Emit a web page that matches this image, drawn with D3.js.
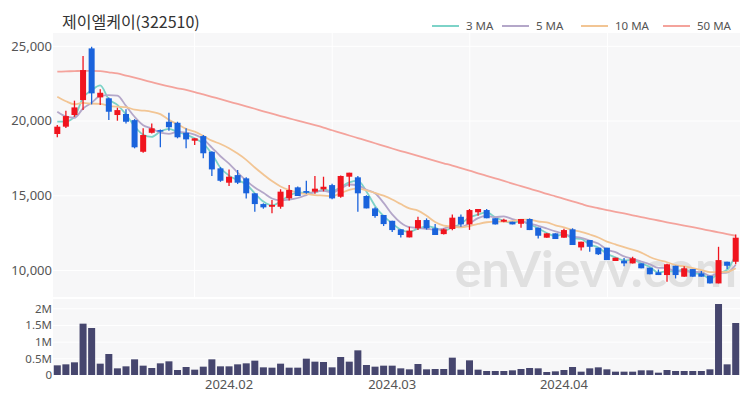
<!DOCTYPE html>
<html>
<head>
<meta charset="utf-8">
<script src="https://cdn.jsdelivr.net/npm/d3@7"></script>
<style>
  body { margin: 0; background: #fff; }
  text { font-family: "Noto Sans CJK KR", "Noto Sans", sans-serif; }
  .tick text, .xlab, .legend text { font-family: "Noto Sans", sans-serif; }
</style>
</head>
<body>
<div id="viz"></div>
<script>
// trading days shown (Jan 4 - Apr 30, 2024)
const dates = [
  "2024-01-04","2024-01-05","2024-01-08","2024-01-09","2024-01-10","2024-01-11","2024-01-12","2024-01-15","2024-01-16","2024-01-17",
  "2024-01-18","2024-01-19","2024-01-22","2024-01-23","2024-01-24","2024-01-25","2024-01-26","2024-01-29","2024-01-30","2024-01-31",
  "2024-02-01","2024-02-02","2024-02-05","2024-02-06","2024-02-07","2024-02-08","2024-02-13","2024-02-14","2024-02-15","2024-02-16",
  "2024-02-19","2024-02-20","2024-02-21","2024-02-22","2024-02-23","2024-02-26","2024-02-27","2024-02-28","2024-02-29",
  "2024-03-04","2024-03-05","2024-03-06","2024-03-07","2024-03-08","2024-03-11","2024-03-12","2024-03-13","2024-03-14","2024-03-15",
  "2024-03-18","2024-03-19","2024-03-20","2024-03-21","2024-03-22","2024-03-25","2024-03-26","2024-03-27","2024-03-28","2024-03-29",
  "2024-04-01","2024-04-02","2024-04-03","2024-04-04","2024-04-05","2024-04-08","2024-04-09","2024-04-11","2024-04-12","2024-04-15",
  "2024-04-16","2024-04-17","2024-04-18","2024-04-19","2024-04-22","2024-04-23","2024-04-24","2024-04-25","2024-04-26","2024-04-29",
  "2024-04-30"
];

const opens = [
  19100,19590,20370,21370,24830,21550,21490,20370,20440,20030,
  17910,19180,19360,19920,19850,19180,18650,18960,17910,16800,
  15840,16350,16130,15130,14410,14230,14230,14790,15530,15280,
  15240,15400,15680,14900,16240,16200,14950,14120,13680,
  13290,12720,12180,12790,13340,12790,12400,12740,13560,13050,
  13860,14010,13460,13230,13230,13090,13410,12830,12160,12450,
  12160,12720,11510,12000,11490,11490,10600,10620,10440,10440,
  10150,9840,9660,10280,9550,10060,9770,9610,9100,10550,
  10550
];
const highs = [
  19700,20660,21330,24320,24940,22090,21550,20860,20750,20100,
  19480,19810,19400,20520,19920,19480,18810,19030,17950,16880,
  16730,16690,16200,15130,14460,14680,15400,15680,15580,15970,
  16290,16240,15770,16330,16510,16290,15000,14190,13680,
  13290,12720,12890,13560,13450,13080,12780,13720,13720,14080,
  14080,14080,13460,13430,13230,13410,13450,12830,12450,12450,
  12760,12790,11890,12000,11490,11490,10820,10800,10890,10440,
  10150,10030,10420,10280,10240,10060,9930,9610,11550,10550,
  12380
];
const lows = [
  18880,19500,20250,20700,21080,21040,20030,19990,19810,18140,
  17850,19140,18210,19320,18810,18140,18360,17470,16290,15900,
  15620,15750,14790,13900,14100,13790,14100,14650,14950,15100,
  15100,15260,14730,14830,15570,13900,14120,13500,12940,
  12540,12180,12180,12680,12700,12340,12380,12650,12900,12680,
  13630,13460,13050,13200,13050,12830,12670,12100,12150,12070,
  12160,11670,11310,11220,11000,10660,10600,10240,10440,10110,
  9710,9660,9210,9430,9550,9550,9550,9100,9100,10060,
  10380
];
const closes = [
  19590,20300,20880,23380,21820,21860,20590,20700,19920,18210,
  19030,19480,19300,19550,18880,18740,18810,17810,16730,15970,
  16240,15840,15130,14410,14190,14350,15240,15350,14950,15170,
  15440,15570,14790,16290,16510,15130,14120,13610,13070,
  12670,12340,12630,13340,12790,12340,12720,13500,13050,14010,
  14080,13460,13050,13360,13050,13410,12670,12290,12450,12070,
  12670,11670,11890,11550,11050,10660,10820,10440,10780,10110,
  9710,9660,10380,9660,10110,9550,9550,9100,10660,10280,
  12160
];
const volumes = [
  290000,320000,380000,1540000,1410000,340000,630000,200000,260000,470000,
  280000,210000,350000,410000,150000,240000,160000,250000,470000,260000,
  260000,320000,350000,430000,230000,220000,340000,220000,220000,490000,
  400000,390000,230000,540000,400000,740000,300000,250000,280000,
  280000,200000,170000,330000,170000,180000,180000,520000,160000,440000,
  160000,120000,120000,120000,140000,180000,210000,200000,90000,110000,
  150000,240000,100000,200000,230000,170000,100000,100000,100000,140000,
  140000,70000,150000,120000,120000,120000,120000,170000,2130000,320000,
  1560000
];
// closes of the sessions just before Jan 4 (needed for the short moving averages)
const priorCloses = [23300,22900,22500,22300,21985,21885,21300,20275,19900];
// 50-day moving average as drawn
const ma50 = [
  23270,23290,23310,23330,23330,23310,23230,23150,23010,22870,
  22720,22570,22420,22280,22160,22050,21910,21750,21590,21430,
  21270,21110,20950,20790,20620,20460,20300,20150,19990,19840,
  19690,19530,19350,19180,19000,18830,18660,18480,18310,
  18130,17960,17800,17630,17470,17300,17140,16990,16810,16650,
  16470,16300,16130,15960,15780,15610,15440,15270,15090,14930,
  14760,14590,14420,14250,14130,14010,13890,13780,13660,13540,
  13420,13310,13190,13080,12970,12860,12750,12630,12520,12400,
  12290
];
const maNames = ["3 MA", "5 MA", "10 MA", "50 MA"];
const maColors = ["#7dd3c8", "#b4a7c9", "#f2c594", "#f4a39c"];
const priceTicks = [10000, 15000, 20000, 25000];
const volumeTicks = [0, 500000, 1000000, 1500000, 2000000];
const volumeLabels = ["0", "0.5M", "1M", "1.5M", "2M"];

const W = 750, H = 400;
const left = 53, right = 740;
const priceTop = 33, priceBottom = 297;
const volTop = 299, volBottom = 375;

const svg = d3.select('#viz')
  .append('svg')
  .attr('width', W)
  .attr('height', H);

const x = d3.scaleBand()
  .domain(dates)
  .range([left, right])
  .paddingInner(0.3)
  .paddingOuter(0.15);
const cx = d => x(d) + x.bandwidth() / 2;

const y = d3.scaleLinear()
  .domain([8190, 25860])
  .range([priceBottom, priceTop]);

const yVol = d3.scaleLinear()
  .domain([0, 2280000])
  .range([volBottom, volTop]);

// simple moving average over the closes
function sma(n) {
  const all = priorCloses.concat(closes);
  return closes.map((c, i) => {
    const j = i + priorCloses.length;
    return d3.mean(all.slice(j - n + 1, j + 1));
  });
}
const maSeries = [sma(3), sma(5), sma(10), ma50];

// panels
svg.append('rect')
  .attr('x', left).attr('y', priceTop)
  .attr('width', right - left).attr('height', priceBottom - priceTop)
  .attr('fill', '#f7f7f8');
svg.append('rect')
  .attr('x', left).attr('y', volTop)
  .attr('width', right - left).attr('height', volBottom - volTop)
  .attr('fill', '#f7f7f8');

// vertical grid
const vGrid = [0.2, 0.4, 0.6, 0.8].map(f => 57 + f * (745 - 57));
svg.selectAll('line.vgrid').data(vGrid).enter()
  .append('line')
  .attr('x1', d => d).attr('x2', d => d)
  .attr('y1', priceTop).attr('y2', priceBottom)
  .attr('stroke', '#fff').attr('stroke-width', 1);

// horizontal grid + axes
const yAxis = svg.append('g')
  .attr('transform', `translate(${left},0)`)
  .call(d3.axisLeft(y).tickValues(priceTicks).tickSize(-(right - left)).tickFormat(d3.format(',')));
const yVolAxis = svg.append('g')
  .attr('transform', `translate(${left},0)`)
  .call(d3.axisLeft(yVol).tickValues(volumeTicks).tickSize(-(right - left)).tickFormat((d, i) => volumeLabels[i]));

[yAxis, yVolAxis].forEach(g => {
  g.select('.domain').remove();
  g.selectAll('.tick line').attr('stroke', '#fff').attr('stroke-width', 1);
  g.selectAll('.tick text').attr('x', -1).attr('fill', '#555').style('font-size', '13px');
});
yVolAxis.selectAll('.tick text').style('font-size', '11.5px');

// watermark
svg.append('text')
  .attr('x', 737).attr('y', 287)
  .attr('text-anchor', 'end')
  .attr('fill', '#e0e0e0')
  .style('font-family', 'Lato, sans-serif')
  .style('font-weight', 'bold')
  .style('font-size', '50px')
  .text('enVievv.com');

// moving averages
const line = d3.line()
  .x((d, i) => cx(dates[i]))
  .y(d => y(d))
  .curve(d3.curveMonotoneX);

svg.selectAll('path.ma').data(maSeries).enter()
  .append('path')
  .attr('class', 'ma')
  .attr('fill', 'none')
  .attr('stroke', (d, i) => maColors[i])
  .attr('stroke-width', 1.8)
  .attr('d', line);

// candles
const up = i => closes[i] >= opens[i];
const candles = svg.selectAll('g.candle').data(dates).enter()
  .append('g')
  .classed('candle', true);

candles.append('line')
  .attr('x1', d => cx(d)).attr('x2', d => cx(d))
  .attr('y1', (d, i) => y(highs[i]))
  .attr('y2', (d, i) => y(lows[i]))
  .attr('stroke', (d, i) => up(i) ? '#f0141e' : '#1a63dc')
  .attr('stroke-width', 1.3);

candles.append('rect')
  .attr('x', d => x(d))
  .attr('width', x.bandwidth())
  .attr('y', (d, i) => y(Math.max(opens[i], closes[i])))
  .attr('height', (d, i) => Math.max(1.5, Math.abs(y(opens[i]) - y(closes[i]))))
  .attr('fill', (d, i) => up(i) ? '#f0141e' : '#1a63dc');

// volume
svg.selectAll('rect.vol').data(dates).enter()
  .append('rect')
  .attr('class', 'vol')
  .attr('x', d => x(d) - 0.5)
  .attr('width', x.bandwidth() + 1)
  .attr('y', (d, i) => yVol(volumes[i]))
  .attr('height', (d, i) => volBottom - yVol(volumes[i]))
  .attr('fill', '#46466e');

// x labels at first session of each month
const monthStarts = dates.filter((d, i) => i > 0 && d.slice(5, 7) !== dates[i - 1].slice(5, 7));
svg.selectAll('text.xlab').data(monthStarts).enter()
  .append('text')
  .attr('class', 'xlab')
  .attr('x', d => cx(d))
  .attr('y', 389)
  .attr('text-anchor', 'middle')
  .attr('fill', '#555')
  .style('font-size', '13px')
  .text(d => d.slice(0, 4) + '.' + d.slice(5, 7));

// title
svg.append('text')
  .attr('x', 62).attr('y', 28)
  .attr('fill', '#333')
  .style('font-size', '16px')
  .text('제이엘케이(322510)');

// legend
const legendX = [432, 502, 581, 663];
const legend = svg.selectAll('g.legend').data(maNames).enter()
  .append('g')
  .attr('class', 'legend')
  .attr('transform', (d, i) => `translate(${legendX[i]},26)`);
legend.append('line')
  .attr('x1', 0).attr('x2', 27)
  .attr('stroke', (d, i) => maColors[i])
  .attr('stroke-width', 2);
legend.append('text')
  .attr('x', 34).attr('y', 4)
  .attr('fill', '#555')
  .style('font-size', '11.5px')
  .text(d => d);
</script>
</body>
</html>
